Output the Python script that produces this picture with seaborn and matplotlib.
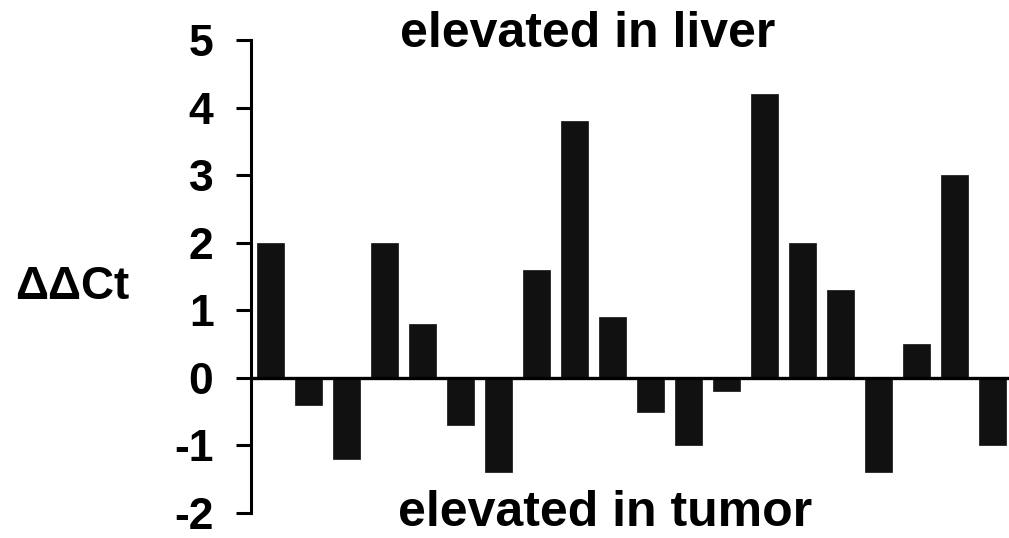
import seaborn as sns
import matplotlib.pyplot as plt
import numpy as np
import pandas as pd

# ddCt per sample (liver vs tumor)
samples = list(range(1, 21))
ddct = [2.0, -0.4, -1.2, 2.0, 0.8, -0.7, -1.4, 1.6, 3.8, 0.9,
        -0.5, -1.0, -0.2, 4.2, 2.0, 1.3, -1.4, 0.5, 3.0, -1.0]
yticks = [-2, -1, 0, 1, 2, 3, 4, 5]

df = pd.DataFrame({'sample': samples, 'ddct': ddct})

sns.set_style('ticks')
plt.rcParams['font.family'] = ['Liberation Sans', 'DejaVu Sans']
plt.rcParams['font.weight'] = 'bold'
plt.rcParams['text.color'] = 'black'

fig = plt.figure(figsize=(10.09, 5.38), dpi=100)
ax = fig.add_axes([251/1009, 25/538, 758/1009, 473/538])

sns.barplot(data=df, x='sample', y='ddct', color='#111111', width=0.71,
            saturation=1, edgecolor='#111111', linewidth=0.5, ax=ax)

ax.axhline(0, color='black', lw=2.4, zorder=3)
ax.set_ylim(-2, 5)
ax.set_xlim(-0.51, 19.43)
ax.set_yticks(yticks)
ax.set_yticklabels([str(t) for t in yticks], fontsize=32, fontweight='bold', color='black')
ax.set_xticks([])
ax.set_xlabel('')
ax.set_ylabel('')
for s in ['top', 'right', 'bottom']:
    ax.spines[s].set_visible(False)
ax.spines['left'].set_linewidth(2.2)
ax.spines['left'].set_color('black')
ax.tick_params(axis='y', length=11, width=2.2, pad=16, color='black')

fig.text(588/1009, 1 - 34/538, 'elevated in liver', fontsize=36, fontweight='bold',
         ha='center', va='center', color='black')
fig.text(605/1009, 1 - 513/538, 'elevated in tumor', fontsize=36, fontweight='bold',
         ha='center', va='center', color='black')
fig.text(72/1009, 1 - 287/538, 'ΔΔCt', fontsize=33, fontweight='bold',
         ha='center', va='center', color='black')

fig.savefig('out.png', dpi=100)
